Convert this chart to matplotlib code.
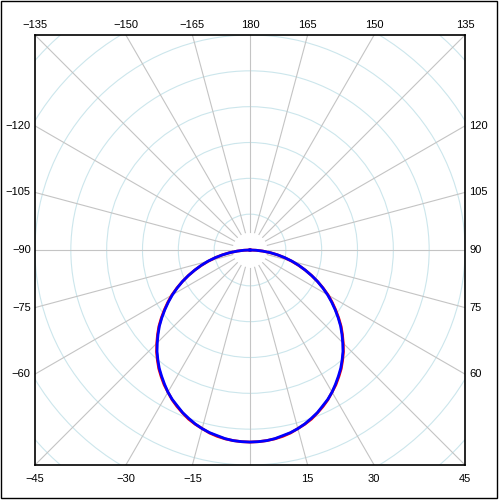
import numpy as np
import matplotlib
matplotlib.use("Agg")
import matplotlib.pyplot as plt
from matplotlib.patches import Circle, Rectangle

plt.rcParams['font.family'] = ['Liberation Sans', 'DejaVu Sans']

# gamma angles (deg) 0..90 and intensity values (curve is symmetric)
gamma_half = [0, 2.5, 5, 7.5, 10, 12.5, 15, 17.5, 20, 22.5, 25, 27.5, 30, 32.5, 35, 37.5, 40, 42.5,
              45, 47.5, 50, 52.5, 55, 57.5, 60, 62.5, 65, 67.5, 70, 72.5, 75, 77.5, 80, 82.5, 85, 87.5, 90]
blue_half = [268, 267.7, 267, 265.5, 263, 261, 258, 254.4, 250, 245.6, 240, 235, 229, 222, 215, 208,
             200, 192, 183, 174, 165, 155, 145, 135, 125, 114.5, 104, 93, 82, 71.5, 61, 50, 39, 28.5,
             18, 8.5, 0]
red_half = [268, 267.7, 267, 265.8, 264, 261.5, 258, 254.8, 251, 246, 241, 235.5, 229, 223, 216, 209,
            201, 193, 184, 175, 166, 156, 146, 136, 126, 115, 104, 93, 82, 71, 60, 49.5, 39, 28.5,
            18, 8.5, 0]

ring_step = 50   # intensity per grid circle
n_box = 6        # half width of the square frame, in circles

top_labels = [-135, -150, -165, 180, 165, 150, 135]
bottom_labels = [-45, -30, -15, 15, 30, 45]
left_labels = [-60, -75, -90, -105, -120]
right_labels = [60, 75, 90, 105, 120]

spoke_color = '#c4c4c4'
ring_color = '#cce6ec'


def to_xy(ang, r):
    a = np.radians(np.asarray(ang, dtype=float))
    r = np.asarray(r, dtype=float)
    return r * np.sin(a), -r * np.cos(a)


def fmt(a):
    return str(a).replace('-', '\u2212')


fig = plt.figure(figsize=(5, 5), dpi=100)
ax = fig.add_axes([0.07, 0.07, 0.86, 0.86])
ax.set_xlim(-n_box, n_box)
ax.set_ylim(-n_box, n_box)
ax.set_xticks([])
ax.set_yticks([])
for s in ax.spines.values():
    s.set_linewidth(1.2)
    s.set_color('black')
    s.set_zorder(10)

# grid circles
for k in range(1, 10):
    ax.add_patch(Circle((0, 0), k, fill=False, ec=ring_color, lw=0.8, zorder=1))

# spokes
for a in range(-180, 180, 15):
    x, y = to_xy([a, a], [0.5, 10])
    ax.plot(x, y, color=spoke_color, lw=0.8, zorder=2)

# curves, both halves (left half mirrors the right)
gamma = [-g for g in gamma_half[::-1]] + gamma_half[1:]
blue_vals = blue_half[::-1] + blue_half[1:]
red_vals = red_half[::-1] + red_half[1:]

xr, yr = to_xy(gamma, np.array(red_vals) / ring_step)
ax.plot(xr, yr, color='#ff0000', lw=2.0, zorder=4)
xb, yb = to_xy(gamma, np.array(blue_vals) / ring_step)
ax.plot(xb, yb, color='#0000ff', lw=2.0, zorder=5)

# angle labels around the frame
fs = 8
for a in top_labels:
    x, y = to_xy(a, 1.0)
    ax.text(x * n_box / y, n_box + 0.28, fmt(a), ha='center', va='center', fontsize=fs, clip_on=False)
for a in bottom_labels:
    x, y = to_xy(a, 1.0)
    ax.text(x * n_box / -y, -n_box - 0.38, fmt(a), ha='center', va='center', fontsize=fs, clip_on=False)
for a in left_labels:
    x, y = to_xy(a, 1.0)
    ax.text(-n_box - 0.12, y * n_box / -x, fmt(a), ha='right', va='center', fontsize=fs, clip_on=False)
for a in right_labels:
    x, y = to_xy(a, 1.0)
    ax.text(n_box + 0.12, y * n_box / x, fmt(a), ha='left', va='center', fontsize=fs, clip_on=False)

# outer border
fig.patches.append(Rectangle((0.001, 0.004), 0.993, 0.995, transform=fig.transFigure,
                             fill=False, ec='black', lw=1.0))

fig.savefig('out.png', dpi=100)
